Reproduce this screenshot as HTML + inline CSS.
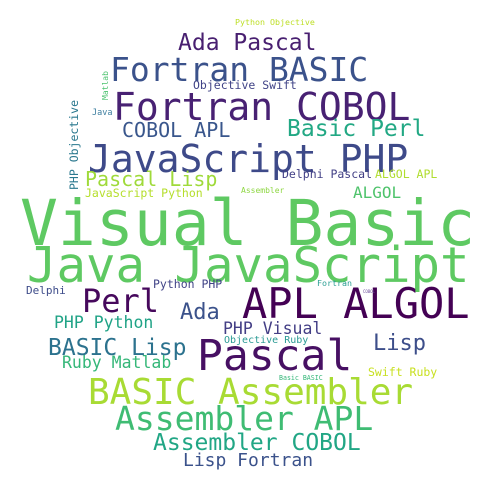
<!DOCTYPE html>
<html><head><meta charset="utf-8"><style>
html,body{margin:0;padding:0;background:#fff;overflow:hidden;width:500px;height:500px;}
svg{display:block;}
svg text{font-family:"DejaVu Sans Mono","Liberation Mono",monospace;}
</style></head><body>
<svg width="500" height="500" xmlns="http://www.w3.org/2000/svg">
<rect width="500" height="500" fill="#fff"/>
<g id="words"></g>
</svg>
<script>
const words=["Visual Basic","Java JavaScript","Fortran COBOL","JavaScript PHP","Fortran BASIC","Ada Pascal","APL ALGOL","Pascal","Perl","BASIC Assembler","Assembler APL","Assembler COBOL","Lisp Fortran","COBOL APL","Basic Perl","Pascal Lisp","JavaScript Python","PHP Objective","Matlab","Java","Objective Swift","Python Objective","Delphi Pascal","ALGOL APL","Assembler","ALGOL","Delphi","Python PHP","Fortran","COBOL","Ada","PHP Python","PHP Visual","Objective Ruby","BASIC Lisp","Lisp","Ruby Matlab","Basic BASIC","Swift Ruby"];
const sizes=[63,49,38,38,33,23,42,43,32,36,33,23,18,20,23,20,11.5,11.5,8,8.5,11.5,8.3,11.5,11.5,8,16,11,11.5,8.3,4,22,16.5,16.5,10,23,22,16.5,6.6,11.5];
const xs=[20,27,113,88,110,178,242,197,82,88,115,153,183,122,287,85,85,78,108,92,193,235,282,375,241,353,26,153,317,363,180,54,223,224,48,373,62,279,368];
const ys=[245,282,120,172,81,50,318,370,312,404,430,450,466,137,136,186,197,190,100,115,89,25,178,178,193,198,294,288,286,293,319,328,334,343,355,350,368,380,376];
const rot=[0,0,0,0,0,0,0,0,0,0,0,0,0,0,0,0,0,1,1,0,0,0,0,0,0,0,0,0,0,0,0,0,0,0,0,0,0,0,0];
const colors=["#5ec962","#5ec962","#482173","#3e4a89","#3b528b","#481f70","#440154","#471063","#46085c","#a8db34","#3fbc73","#21a685","#3b528b","#39568c","#22a884","#9fda3a","#b5de2b","#2a788e","#4ac16d","#3e7fa0","#414487","#bddf26","#424086","#b0dd2f","#8fd744","#4ec36b","#3e4c8a","#414487","#2c9f94","#6b4c9a","#3b528b","#20a386","#433e85","#2a9a94","#2c728e","#3d4e8a","#35b779","#35b779","#c8e020"];
const g=document.getElementById('words');
words.forEach((w,i)=>{
  const t=document.createElementNS('http://www.w3.org/2000/svg','text');
  t.textContent=w;
  t.setAttribute('font-size',sizes[i]);
  t.setAttribute('fill',colors[i]);
  if(rot[i]){t.setAttribute('transform','translate('+xs[i]+','+ys[i]+') rotate(-90)');}
  else{t.setAttribute('x',xs[i]);t.setAttribute('y',ys[i]);}
  
  
  g.appendChild(t);
});
</script>
</body></html>
